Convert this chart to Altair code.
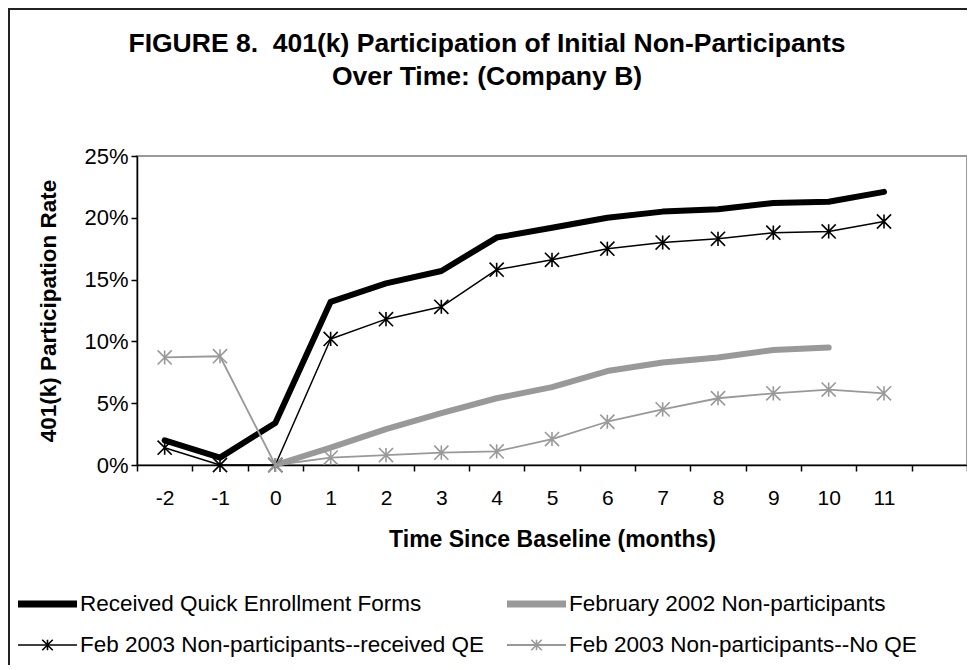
import altair as alt
import pandas as pd

# ---------------- data ----------------
months = list(range(-2, 12))
series_names = [
    "Received Quick Enrollment Forms",
    "February 2002 Non-participants",
    "Feb 2003 Non-participants--received QE",
    "Feb 2003 Non-participants--No QE",
]
received_qe_forms = [2.0, 0.6, 3.4, 13.2, 14.7, 15.7, 18.4, 19.2, 20.0, 20.5, 20.7, 21.2, 21.3, 22.1]
feb2002_nonpart = [None, None, 0.0, 1.4, 2.9, 4.2, 5.4, 6.3, 7.6, 8.3, 8.7, 9.3, 9.5, None]
feb2003_received_qe = [1.4, 0.0, 0.0, 10.2, 11.8, 12.8, 15.8, 16.6, 17.5, 18.0, 18.3, 18.8, 18.9, 19.7]
feb2003_no_qe = [8.7, 8.8, 0.0, 0.6, 0.8, 1.0, 1.1, 2.1, 3.5, 4.5, 5.4, 5.8, 6.1, 5.8]
y_ticks = [0, 5, 10, 15, 20, 25]
title_lines = [
    "FIGURE 8.\u00a0 401(k) Participation of Initial Non-Participants",
    "Over Time: (Company B)",
]
x_title = "Time Since Baseline (months)"
y_title = "401(k) Participation Rate"

# ---------------- styles ----------------
FONT = "Liberation Sans"
colors = ["#000000", "#999999", "#000000", "#999999"]
widths = [6, 6, 1.5, 1.8]
has_star = [False, False, True, True]
W, H = 830, 309

rows = []
for name, vals in zip(series_names, [received_qe_forms, feb2002_nonpart, feb2003_received_qe, feb2003_no_qe]):
    for m, v in zip(months, vals):
        if v is not None:
            rows.append({"month": m, "rate": v, "series": name})
df = pd.DataFrame(rows)

STAR = "M-1,-1L1,1M-1,1L1,-1M0,-1L0,1"

x_enc = alt.X(
    "month:O",
    bandPosition=0.5,
    scale=alt.Scale(type="band", domain=months + [12], paddingInner=0, paddingOuter=0),
    axis=alt.Axis(
        title=x_title, labelAngle=0, tickBand="extent", tickSize=6,
        labelExpr="datum.value == 12 ? '' : datum.label",
        labelFontSize=21, labelPadding=16, titleFontSize=23, titleFontWeight="bold",
        titleY=74, titleBaseline="middle", titleX=W / 2,
        domainWidth=1.5, domainColor="#000", tickColor="#000", tickWidth=1.5,
    ),
)
y_enc = alt.Y(
    "rate:Q",
    scale=alt.Scale(domain=[0, 25], nice=False, zero=True),
    axis=alt.Axis(
        title=y_title, values=y_ticks, labelExpr="datum.value + '%'", grid=False,
        tickSize=6, labelFontSize=22, labelPadding=3,
        titleFontSize=22.5, titleFontWeight="bold", titleX=-89, titleY=H / 2,
        titleBaseline="middle", titleAngle=270,
        domainWidth=1.5, domainColor="#000", tickColor="#000", tickWidth=1.5,
    ),
)

base = alt.Chart(df)
layers = []
for i, name in enumerate(series_names):
    sub = base.transform_filter(alt.datum.series == name)
    layers.append(
        sub.mark_line(color=colors[i], strokeWidth=widths[i], strokeJoin="round",
                      strokeCap="round" if widths[i] > 3 else "butt")
        .encode(x=x_enc, y=y_enc)
    )
    if has_star[i]:
        layers.append(
            sub.mark_point(shape=STAR, size=200, filled=False, stroke=colors[i],
                           strokeWidth=1.6, opacity=1)
            .encode(x=x_enc, y=y_enc)
        )

# ---------------- legend (manual) ----------------
leg_col = [0, 1, 0, 1]
leg_row = [0, 0, 1, 1]
COL_DX, ROW_DY = 489, 41
LX0, LX1, TX, LY = -119, -60, -57, 448
for i, name in enumerate(series_names):
    ld = pd.DataFrame({
        "series": [name],
        "x0": [LX0 + leg_col[i] * COL_DX],
        "x1": [LX1 + leg_col[i] * COL_DX],
        "xm": [(LX0 + LX1) / 2 + leg_col[i] * COL_DX],
        "y": [LY + leg_row[i] * ROW_DY],
    })
    lc = alt.Chart(ld)
    layers.append(
        lc.mark_rule(color=colors[i], strokeWidth=widths[i] + (1 if widths[i] > 3 else 0))
        .encode(x=alt.X("x0:Q", scale=None), x2="x1:Q", y=alt.Y("y:Q", scale=None))
    )
    if has_star[i]:
        layers.append(
            lc.mark_point(shape=STAR, size=110, filled=False, stroke=colors[i],
                          strokeWidth=1.6, opacity=1)
            .encode(x=alt.X("xm:Q", scale=None), y=alt.Y("y:Q", scale=None))
        )

leg_text = pd.DataFrame({
    "series": series_names,
    "tx": [TX + c * COL_DX for c in leg_col],
    "ty": [LY + r * ROW_DY for r in leg_row],
})
layers.append(
    alt.Chart(leg_text).mark_text(align="left", baseline="middle", font=FONT, fontSize=22.5, color="#000")
    .encode(x=alt.X("tx:Q", scale=None), y=alt.Y("ty:Q", scale=None), text="series:N")
)

# ---------------- title (as text) ----------------
title_df = pd.DataFrame({"line": title_lines, "tx": [350, 350], "ty": [-112, -79]})
layers.append(
    alt.Chart(title_df).mark_text(align="center", baseline="middle", font=FONT, fontSize=26.5,
                                  fontWeight="bold", color="#000")
    .encode(x=alt.X("tx:Q", scale=None), y=alt.Y("ty:Q", scale=None), text="line:N")
)

# ---------------- outer frame ----------------
frame = pd.DataFrame({"a": [0]})
layers.append(
    alt.Chart(frame).mark_rule(color="#222", strokeWidth=2)
    .encode(x=alt.value(-128), y=alt.value(-147), y2=alt.value(520))
)
layers.append(
    alt.Chart(frame).mark_rule(color="#222", strokeWidth=2)
    .encode(x=alt.value(-129), x2=alt.value(W + 20), y=alt.value(-147))
)

chart = (
    alt.layer(*layers)
    .properties(
        width=W, height=H,
        autosize=alt.AutoSizeParams(type="none"),
        padding={"left": 129, "top": 148, "right": 0, "bottom": 200},
        background="white",
    )
    .configure_view(stroke="#999999", strokeWidth=2)
    .configure_axis(labelFont=FONT, titleFont=FONT, labelColor="#000", titleColor="#000")
)

chart.save("out.html", embed_options={"renderer": "svg", "actions": False})
